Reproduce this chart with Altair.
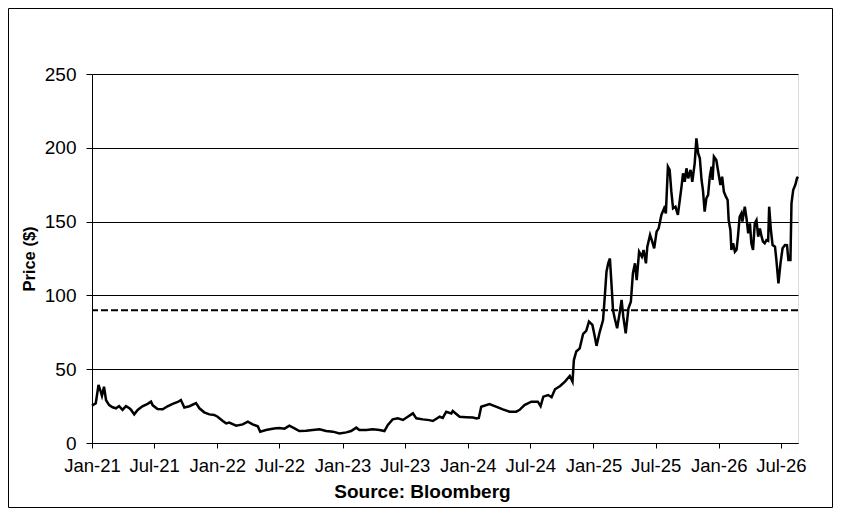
import altair as alt
import pandas as pd

# ---- data ----
dates_2021 = ["2021-01-01", "2021-01-12", "2021-01-20", "2021-01-25", "2021-01-30", "2021-02-05",
              "2021-02-11", "2021-02-20", "2021-03-02", "2021-03-12", "2021-03-21", "2021-03-31",
              "2021-04-10", "2021-04-20", "2021-04-25", "2021-05-04", "2021-05-14", "2021-05-28",
              "2021-06-12", "2021-06-22", "2021-06-27", "2021-07-11", "2021-07-26", "2021-08-09",
              "2021-08-24", "2021-09-08", "2021-09-17", "2021-09-27", "2021-10-12", "2021-10-31",
              "2021-11-10", "2021-11-24", "2021-12-09", "2021-12-23"]
prices_2021 = [25.3, 26.9, 39.3, 35.9, 32, 38.1, 29, 25.7, 24.2, 23.5, 25, 22.4,
               25, 23.5, 22.4, 19.4, 22.4, 24.9, 26.5, 28, 25.5, 23, 22.8, 24.9,
               26.5, 27.8, 29.1, 24, 24.9, 27, 23.5, 20.8, 19.4, 19]

dates_2022 = ["2022-01-02", "2022-01-17", "2022-01-27", "2022-02-05", "2022-02-25", "2022-03-16",
              "2022-03-31", "2022-04-14", "2022-04-29", "2022-05-06", "2022-05-23", "2022-06-07",
              "2022-06-21", "2022-07-01", "2022-07-16", "2022-07-30", "2022-08-14", "2022-08-28",
              "2022-09-17", "2022-10-06", "2022-10-26", "2022-11-14", "2022-12-04", "2022-12-23"]
prices_2022 = [17.8, 14.9, 13.3, 13.8, 11.7, 12.6, 14.5, 12.6, 11.3, 7.7, 8.8, 9.5,
               10, 10.2, 9.7, 11.7, 9.9, 8.1, 8.3, 8.8, 9.3, 8.1, 7.7, 6.5]

dates_2023 = ["2023-01-12", "2023-01-26", "2023-02-10", "2023-02-19", "2023-03-11", "2023-03-30",
              "2023-04-19", "2023-05-03", "2023-05-13", "2023-05-27", "2023-06-11", "2023-06-26",
              "2023-07-10", "2023-07-25", "2023-08-04", "2023-08-23", "2023-09-11", "2023-09-21",
              "2023-10-11", "2023-10-20", "2023-10-30", "2023-11-14", "2023-11-18", "2023-12-08",
              "2023-12-27"]
prices_2023 = [7.2, 8.1, 10.4, 8.8, 8.8, 9.3, 8.8, 8.1, 12.2, 16, 16.7, 15.6,
               17.8, 20.1, 16.7, 16, 15.5, 14.9, 17.8, 17, 21.2, 20, 21.7, 17.8, 17.5]

dates_2024 = ["2024-01-16", "2024-01-26", "2024-02-02", "2024-02-09", "2024-03-04", "2024-03-23",
              "2024-04-12", "2024-05-02", "2024-05-21", "2024-05-31", "2024-06-14", "2024-07-04",
              "2024-07-23", "2024-07-31", "2024-08-08", "2024-08-22", "2024-09-01", "2024-09-11",
              "2024-09-26", "2024-10-10", "2024-10-24", "2024-11-01", "2024-11-05", "2024-11-12",
              "2024-11-22", "2024-12-02", "2024-12-11", "2024-12-19", "2024-12-29"]
prices_2024 = [17.2, 16.7, 17, 24.6, 26.4, 24.6, 22.8, 21.2, 21.2, 22.5, 25.7, 28,
               28, 25, 31.4, 32.5, 31, 36.4, 38.6, 41.6, 45.4, 41.6, 56.2, 62,
               64.1, 74, 76, 82.2, 80]

dates_2025 = ["2025-01-05", "2025-01-10", "2025-01-19", "2025-01-29", "2025-02-03", "2025-02-08",
              "2025-02-13", "2025-02-18", "2025-02-23", "2025-02-27", "2025-03-04", "2025-03-11",
              "2025-03-19", "2025-03-24", "2025-03-29", "2025-04-05", "2025-04-13", "2025-04-20",
              "2025-04-26", "2025-05-02", "2025-05-07", "2025-05-14", "2025-05-22", "2025-05-27",
              "2025-06-03", "2025-06-07", "2025-06-15", "2025-06-20", "2025-06-27", "2025-07-04",
              "2025-07-10", "2025-07-18", "2025-07-26", "2025-07-31", "2025-08-06", "2025-08-11",
              "2025-08-16", "2025-08-21", "2025-08-28", "2025-09-04", "2025-09-09", "2025-09-14",
              "2025-09-19", "2025-09-24", "2025-09-29", "2025-10-04", "2025-10-11", "2025-10-16",
              "2025-10-23", "2025-10-28", "2025-11-02", "2025-11-07", "2025-11-12", "2025-11-16",
              "2025-11-21", "2025-11-26", "2025-12-01", "2025-12-06", "2025-12-11", "2025-12-14",
              "2025-12-18", "2025-12-25"]
prices_2025 = [72, 65.8, 75, 83.3, 99, 116, 121.7, 125, 106, 90, 84.5, 77.7,
               89, 96.9, 85.6, 74.3, 91.2, 95.7, 115, 121.7, 110.4, 129.6, 126.2, 130.8,
               121.7, 133, 141, 137.5, 131.9, 143.2, 145.4, 154.5, 159, 155.6, 187.2, 185,
               170.3, 159, 160.1, 154.5, 163.5, 172.5, 182.7, 177, 186.1, 179.3, 185, 177,
               189.5, 206.4, 196.3, 192.9, 178.2, 171.4, 156.7, 165.8, 168, 180.4, 187.2, 178.2,
               194, 191.7]

dates_2026 = ["2026-01-02", "2026-01-06", "2026-01-11", "2026-01-16", "2026-01-22", "2026-01-27",
              "2026-01-30", "2026-02-04", "2026-02-07", "2026-02-12", "2026-02-17", "2026-02-22",
              "2026-02-26", "2026-03-03", "2026-03-08", "2026-03-11", "2026-03-18", "2026-03-23",
              "2026-03-28", "2026-04-02", "2026-04-06", "2026-04-11", "2026-04-16", "2026-04-21",
              "2026-04-26", "2026-05-01", "2026-05-06", "2026-05-10", "2026-05-15", "2026-05-20",
              "2026-05-25", "2026-05-28", "2026-06-02", "2026-06-07", "2026-06-14", "2026-06-18",
              "2026-06-24", "2026-06-30", "2026-07-06", "2026-07-13", "2026-07-19", "2026-07-23",
              "2026-07-29", "2026-08-01", "2026-08-06", "2026-08-12", "2026-08-17", "2026-08-20"]
prices_2026 = [180.4, 174.8, 180.4, 170.3, 166.9, 164.6, 151, 144.3, 130.8, 135.3, 129.6, 131,
               139.8, 153.3, 155.6, 150, 160.1, 152.2, 142, 148.8, 135.3, 130.8, 148.8, 151,
               139.8, 145.4, 139.8, 136.4, 135.3, 137.5, 137, 160.1, 144.3, 134.1, 133, 124,
               108.2, 121.7, 131.9, 134.1, 134, 124, 124, 162.4, 171.4, 174.8, 179.3, 180.4]

reference_level = [90]
y_ticks = [0, 50, 100, 150, 200, 250]
x_tick_months = [(2021, 1), (2021, 7), (2022, 1), (2022, 7), (2023, 1), (2023, 7),
                 (2024, 1), (2024, 7), (2025, 1), (2025, 7), (2026, 1), (2026, 7)]

all_dates = dates_2021 + dates_2022 + dates_2023 + dates_2024 + dates_2025 + dates_2026
all_prices = prices_2021 + prices_2022 + prices_2023 + prices_2024 + prices_2025 + prices_2026
df = pd.DataFrame({"date": all_dates, "price": all_prices})

FONT = "Liberation Sans"
W, H = 706, 369
PAD = {"left": 84, "top": 66, "right": 35, "bottom": 65}

x_enc = alt.X(
    "date:T",
    scale=alt.Scale(
        type="utc",
        domain=[alt.DateTime(year=2021, month=1, date=1, utc=True),
                alt.DateTime(year=2026, month=8, date=20, utc=True)],
    ),
    axis=alt.Axis(
        values=[alt.DateTime(year=y, month=m, date=1, utc=True) for y, m in x_tick_months],
        labelExpr="utcFormat(datum.value, '%b-%y')",
        grid=False, labelFlush=False, labelOverlap=False,
        labelFontSize=18.5, labelColor="black", labelPadding=8,
        tickSize=5, tickColor="black", domainColor="black",
        title="Source: Bloomberg", titleFontSize=19, titleFontWeight="bold",
        titleColor="black", titleX=330, titleY=48.5,
        titleAlign="center", titleBaseline="middle",
    ),
)

y_enc = alt.Y(
    "price:Q",
    scale=alt.Scale(domain=[0, 250], nice=False),
    axis=alt.Axis(
        values=y_ticks, grid=True, gridColor="black", gridWidth=1, gridOpacity=1,
        labelFontSize=19, labelColor="black", labelPadding=10,
        tickSize=6, tickColor="black", domainColor="black",
        title="Price ($)", titleFontSize=16.5, titleFontWeight="bold", titleColor="black",
        titleX=-62.5, titleY=H / 2, titleAngle=270,
        titleAlign="center", titleBaseline="middle",
    ),
)

line = alt.Chart(df).mark_line(color="black", strokeWidth=2.5).encode(x=x_enc, y=y_enc)

rule = alt.Chart(pd.DataFrame({"level": reference_level})).mark_rule(
    color="black", strokeWidth=2, strokeDash=[7, 3]
).encode(y=alt.Y("level:Q"))

border = alt.Chart(pd.DataFrame({"a": [0]})).mark_rect(
    filled=False, stroke="black", strokeWidth=1
).encode(
    x=alt.value(-PAD["left"] + 0.5),
    x2=alt.value(W + PAD["right"] - 0.5),
    y=alt.value(-PAD["top"] + 0.5),
    y2=alt.value(H + PAD["bottom"] - 0.5),
)

chart = alt.layer(rule, line, border).properties(
    width=W, height=H,
    autosize=alt.AutoSizeParams(type="none"),
    padding=PAD,
    background="white",
).configure_view(stroke=None).configure(font=FONT)

chart.save("out.html", embed_options={"renderer": "svg", "actions": False})
